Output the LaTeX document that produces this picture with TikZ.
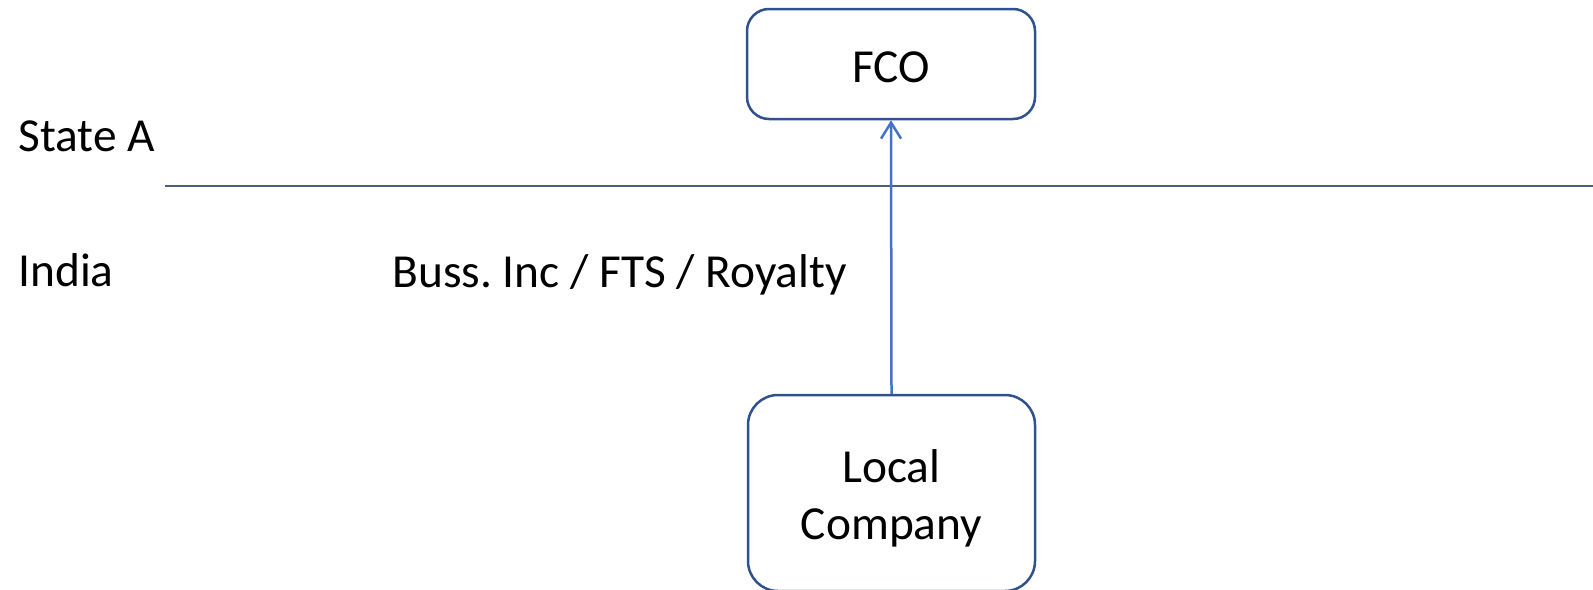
\documentclass[tikz,border=0pt]{standalone}
\usepackage{fontspec}
\setmainfont{Carlito}
\frenchspacing
\usetikzlibrary{arrows.meta}
\definecolor{boxline}{HTML}{2F528F}
\definecolor{flowline}{HTML}{4472C4}
\definecolor{divider}{HTML}{4F5D7E}
\tikzset{
  labelfont/.style={font=\fontsize{23.7}{28.5}\selectfont},
  entity/.style={draw=boxline, line width=1.25pt, inner sep=0pt},
  entitytext/.style={labelfont, align=center, inner sep=0pt},
  region/.style={labelfont, anchor=base west, inner sep=0pt},
  flow/.style={draw=flowline, line width=1.25pt, -{Straight Barb[length=8pt,width=10pt,line width=1.25pt]}},
}
\begin{document}
\begin{tikzpicture}[x=0.5pt, y=-0.5pt]
  \useasboundingbox (0,0) rectangle (1593,589);

  % jurisdictions and the border between them
  \coordinate (divL) at (165,186);
  \coordinate (divR) at (1593,186);
  \draw[divider, line width=0.75pt] (divL) -- (divR);
  \node[region] (stateA) at (18,151) {State A};
  \node[region] (india) at (18,286) {India};

  % entities
  \node[entity, rounded corners=11pt, minimum width=144pt, minimum height=55pt] (fco) at (891,64) {};
  \node[entitytext] (fcoText) at (891,67) {FCO};
  \node[entity, rounded corners=15pt, minimum width=143.5pt, minimum height=98pt] (local) at (891.5,493) {};
  \node[entitytext] (localText) at (891.5,498) {Local\\Company};

  % payment flow
  \draw[flow] (local.north) -- (fco.south);
  \node[region] (income) at (392,287) {Buss. Inc / FTS / Royalty};
\end{tikzpicture}
\end{document}
